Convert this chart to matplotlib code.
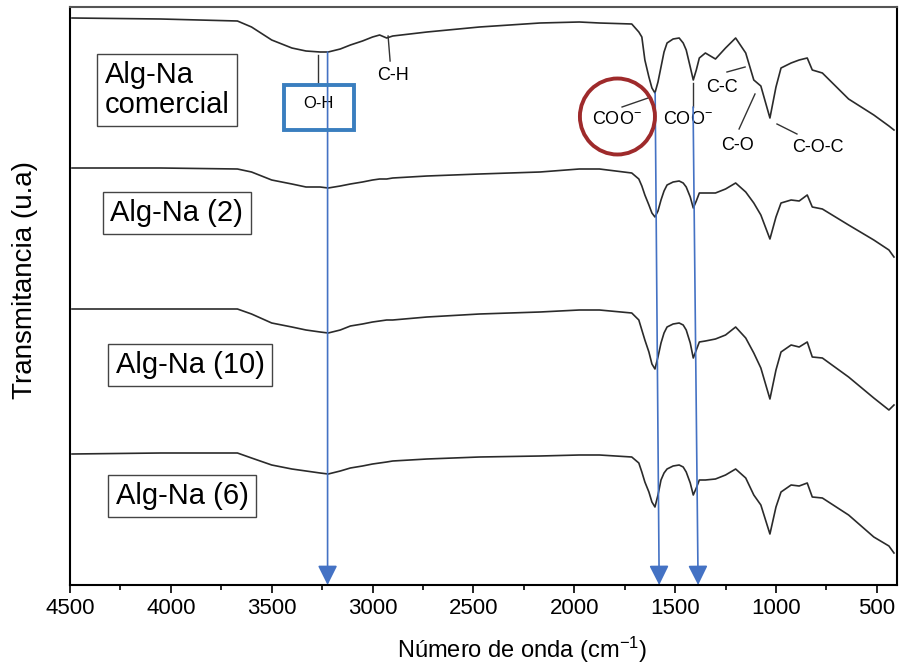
import matplotlib
matplotlib.use("Agg")
import matplotlib.pyplot as plt
from matplotlib.patches import Ellipse, Rectangle
from matplotlib.ticker import MultipleLocator

plt.rcParams['font.family'] = ['Liberation Sans', 'DejaVu Sans']
plt.rcParams['mathtext.fontset'] = 'custom'
plt.rcParams['mathtext.rm'] = 'Liberation Sans'
plt.rcParams['mathtext.it'] = 'Liberation Sans:italic'

# Wavenumbers (cm^-1)
wavenumber = [4490, 4050, 3670, 3600, 3500, 3450, 3400, 3330, 3260, 3220, 3160, 3110,
              3050, 3000, 2965, 2930, 2900, 2730, 2470, 2170, 1975, 1875, 1715, 1680,
              1665, 1650, 1630, 1615, 1600, 1585, 1570, 1555, 1540, 1510, 1480, 1460,
              1445, 1425, 1410, 1395, 1380, 1350, 1300, 1250, 1200, 1150, 1110, 1075,
              1030, 1000, 975, 925, 885, 845, 820, 770, 640, 515, 440, 415]

# Transmittance (arbitrary units, stacked)
t_comercial = [567, 566, 564, 558, 545, 541, 537, 534, 533, 533, 536, 540, 544, 548, 550,
               547, 549, 553, 558, 562, 563, 562, 561, 553, 548, 525, 508, 497, 492, 503,
               518, 533, 542, 546, 547, 542, 535, 518, 505, 515, 527, 532, 526, 537, 547,
               532, 505, 499, 467, 498, 517, 522, 525, 527, 515, 512, 486, 470, 459, 455]
t_2 = [417, 417, 416, 413, 405, 403, 401, 398, 398, 397, 399, 401, 403, 405, 406,
       406, 407, 409, 411, 413, 416, 416, 412, 406, 399, 390, 380, 372, 368, 374,
       385, 394, 400, 403, 404, 402, 398, 388, 377, 384, 392, 392, 392, 396, 402,
       393, 382, 370, 346, 368, 382, 385, 384, 390, 378, 376, 360, 345, 335, 328]
t_10 = [276, 276, 276, 271, 262, 260, 258, 255, 253, 252, 255, 259, 261, 263, 264,
        265, 265, 268, 271, 273, 275, 275, 272, 265, 255, 245, 233, 221, 216, 228,
        242, 252, 258, 261, 262, 260, 255, 242, 227, 235, 243, 244, 246, 250, 258,
        247, 232, 217, 186, 215, 233, 240, 238, 243, 228, 227, 208, 187, 175, 180]
t_6 = [131, 132, 132, 127, 120, 118, 116, 114, 112, 111, 114, 117, 119, 121, 122,
       123, 124, 126, 128, 129, 130, 130, 128, 122, 113, 103, 93, 83, 78, 90,
       105, 112, 116, 119, 120, 118, 113, 102, 90, 97, 105, 105, 106, 110, 116,
       107, 90, 80, 51, 78, 93, 100, 99, 102, 88, 87, 70, 48, 39, 32]

series = [t_comercial, t_2, t_10, t_6]
sample_labels = ["Alg-Na\ncomercial", "Alg-Na (2)", "Alg-Na (10)", "Alg-Na (6)"]
label_pos = [(4019, 495), (3970, 372), (3905, 220), (3945, 89)]

xticks = [4500, 4000, 3500, 3000, 2500, 2000, 1500, 1000, 500]

fig = plt.figure(figsize=(9.02, 6.72), dpi=100)
ax = fig.add_axes([70/902, 87/672, 827/902, 578/672])

for s in series:
    ax.plot(wavenumber, s, color='#2b2b2b', lw=1.2)

ax.set_xlim(4500, 400)
ax.set_ylim(0, 578)
ax.set_xticks(xticks)
ax.xaxis.set_minor_locator(MultipleLocator(250))
ax.set_yticks([])
ax.tick_params(axis='x', which='major', direction='out', length=6, width=1.2,
               labelsize=16, pad=3)
ax.tick_params(axis='x', which='minor', direction='out', length=3.5, width=1.2)
for sp in ['left', 'bottom', 'right']:
    ax.spines[sp].set_linewidth(1.5)
    ax.spines[sp].set_color('black')
ax.spines['top'].set_linewidth(1.5)
ax.spines['top'].set_color('#555555')

ax.set_xlabel("Número de onda (cm$^{-1}$)", fontsize=17, va='center')
ax.xaxis.set_label_coords(0.547, -0.1125)
ax.set_ylabel("Transmitancia (u.a)", fontsize=20, va='center')
ax.yaxis.set_label_coords(-0.054, 0.528)

for lab, (x, y) in zip(sample_labels, label_pos):
    ax.text(x, y, lab, fontsize=21, ha='center', va='center', ma='left',
            linespacing=1.1,
            bbox=dict(boxstyle='square,pad=0.25', fc='white', ec='#444444', lw=1))

# Band annotations
blue = '#4472c4'
ann_fs = 13
ax.plot([3270, 3270], [530, 500], color='#333333', lw=1)
ax.add_patch(Rectangle((3092, 455), 347, 45, fill=False, ec='#3a7ebf', lw=2.8, zorder=4))
ax.text(3270, 482, "O-H", fontsize=12, ha='center', va='center')

ax.plot([2923, 2913], [549, 524], color='#333333', lw=1)
ax.text(2899, 510, "C-H", fontsize=ann_fs, ha='center', va='center')

ax.add_patch(Ellipse((1786, 468.5), 372, 76, fill=False, ec='#9e2a2b', lw=2.8, zorder=4))
ax.plot([1763, 1634], [478, 487], color='#333333', lw=1)
ax.text(1788, 465, "COO$^{-}$", fontsize=ann_fs, ha='center', va='center')

ax.plot([1411, 1411], [502, 478], color='#333333', lw=1)
ax.text(1436, 465, "COO$^{-}$", fontsize=ann_fs, ha='center', va='center')

ax.plot([1243, 1153], [513, 518], color='#333333', lw=1)
ax.text(1268, 498, "C-C", fontsize=ann_fs, ha='center', va='center')

ax.plot([1183, 1104], [456, 491], color='#333333', lw=1)
ax.text(1193, 439, "C-O", fontsize=ann_fs, ha='center', va='center')

ax.plot([995, 896], [461, 451], color='#333333', lw=1)
ax.text(792, 438, "C-O-C", fontsize=ann_fs, ha='center', va='center')

# Blue arrows
arrows = [((3223, 533), (3223, 0)), ((1599, 492), (1579, 0)), ((1411, 478), (1386, 0))]
for start, end in arrows:
    ax.annotate("", xy=end, xytext=start, annotation_clip=False,
                arrowprops=dict(arrowstyle='-|>,head_length=0.6,head_width=0.3',
                                color=blue, lw=1.2, mutation_scale=20,
                                shrinkA=0, shrinkB=0))

fig.savefig("out.png", dpi=100)
